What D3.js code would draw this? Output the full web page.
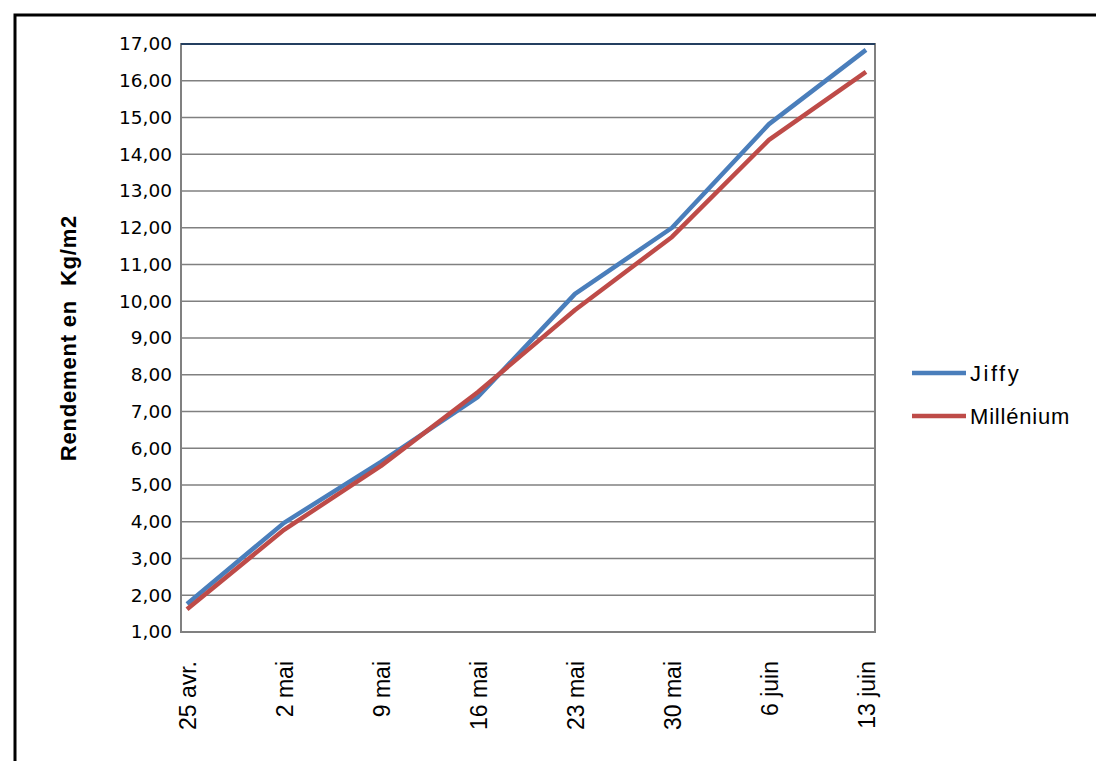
<!DOCTYPE html>
<html><head><meta charset="utf-8">
<script src="https://cdn.jsdelivr.net/npm/d3@7"></script>
<style>body{margin:0;background:#fff}svg{display:block;font-family:"Liberation Sans",Arial,sans-serif}</style>
</head><body><svg id="chart" width="1096" height="761"></svg>
<script>
var dates = ["25 avr.", "2 mai", "9 mai", "16 mai", "23 mai", "30 mai", "6 juin", "13 juin"];
var jiffy = [1.76, 3.97, 5.63, 7.40, 10.20, 12.00, 14.82, 16.84];
var millenium = [1.62, 3.78, 5.52, 7.53, 9.76, 11.75, 14.39, 16.24];
var yTicks = d3.range(1, 18, 1);

var svg = d3.select("#chart");
svg.append("rect").attr("x", 15).attr("y", 15).attr("width", 1100).attr("height", 760)
    .attr("fill", "none").attr("stroke", "#000").attr("stroke-width", 3);

var pLeft = 181, pRight = 875, pTop = 44, pBottom = 632;
var x = d3.scaleLinear().domain([-0.062, 7.093]).range([pLeft, pRight]);
var y = d3.scaleLinear().domain([1, 17]).range([pBottom, pTop]);

// grid
svg.selectAll(".grid").data(yTicks).enter().append("line")
    .attr("x1", pLeft).attr("x2", pRight)
    .attr("y1", function(d) { return y(d); }).attr("y2", function(d) { return y(d); })
    .attr("stroke", "#808080").attr("stroke-width", 1.5);
svg.append("rect").attr("x", pLeft).attr("y", pTop).attr("width", pRight - pLeft).attr("height", pBottom - pTop)
    .attr("fill", "none").attr("stroke", "#808080").attr("stroke-width", 2);
svg.append("line").attr("x1", pLeft).attr("x2", pRight).attr("y1", pTop).attr("y2", pTop)
    .attr("stroke", "#243f60").attr("stroke-width", 2);

var yAxis = svg.append("g").attr("transform", "translate(" + pLeft + ",0)")
    .call(d3.axisLeft(y).tickValues(yTicks).tickSize(0).tickFormat(function(d) { return d3.format(".2f")(d).replace(".", ","); }));
var xAxis = svg.append("g").attr("transform", "translate(0," + pBottom + ")")
    .call(d3.axisBottom(x).tickValues(d3.range(8)).tickSize(0).tickFormat(function(d) { return dates[d]; }));
[yAxis, xAxis].forEach(function(a) {
    a.select(".domain").remove();
    a.selectAll("text").attr("fill", "#000");
});
yAxis.selectAll("text").attr("x", -9).style("font-family", "'DejaVu Sans', Verdana, sans-serif")
    .style("font-size", "18.5px");
xAxis.selectAll("text").attr("transform", "rotate(-90)").attr("text-anchor", "end")
    .attr("x", -29).attr("y", 0).attr("dy", "0.35em").style("font-size", "23px");

svg.append("text").attr("transform", "translate(68," + ((pTop + pBottom) / 2) + ") rotate(-90)")
    .attr("text-anchor", "middle").attr("dy", "0.35em").style("font-size", "22px").style("font-weight", "bold")
    .style("letter-spacing", "0.8px").style("white-space", "pre")
    .text("Rendement en  Kg/m2");

var line = d3.line().x(function(d, i) { return x(i); }).y(function(d) { return y(d); });
var series = [{name: "Jiffy", values: jiffy, color: "#4a7ebb"}, {name: "Millénium", values: millenium, color: "#be4b48"}];
series.forEach(function(s, i) {
    svg.append("path").datum(s.values).attr("d", line).attr("fill", "none")
        .attr("stroke", s.color).attr("stroke-width", 4.5).attr("stroke-linejoin", "round");
    var ly = 373 + i * 43;
    svg.append("line").attr("x1", 912).attr("x2", 966).attr("y1", ly).attr("y2", ly)
        .attr("stroke", s.color).attr("stroke-width", 4.5);
    svg.append("text").attr("x", 970).attr("y", ly).attr("dy", "0.35em")
        .style("font-size", "22px").style("letter-spacing", i === 0 ? "2.5px" : "0.8px").text(s.name);
});
</script></body></html>
